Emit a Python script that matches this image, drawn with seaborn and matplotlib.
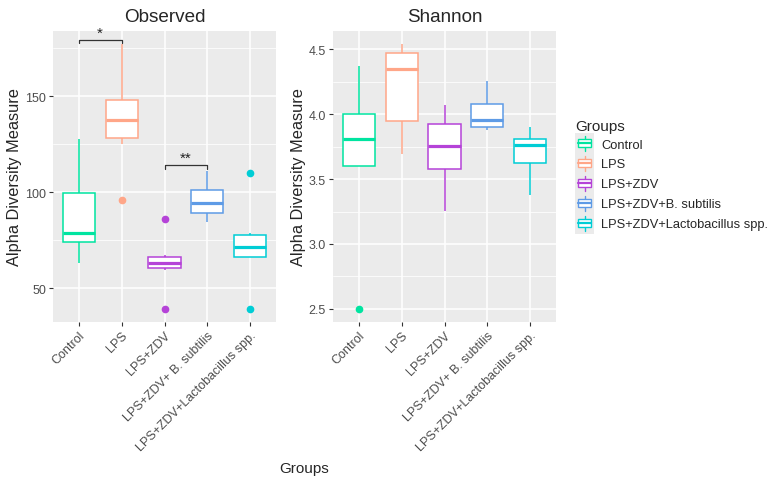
import pandas as pd
import matplotlib
matplotlib.use("Agg")
import matplotlib.pyplot as plt
import seaborn as sns
from matplotlib.legend_handler import HandlerBase
from matplotlib.patches import Patch, Rectangle
from matplotlib.lines import Line2D
from matplotlib.ticker import MultipleLocator, FormatStrFormatter

groups = ["Control", "LPS", "LPS+ZDV", "LPS+ZDV+B. subtilis", "LPS+ZDV+Lactobacillus spp."]
tick_labels = ["Control", "LPS", "LPS+ZDV", "LPS+ZDV+ B. subtilis", "LPS+ZDV+Lactobacillus spp."]
colors = ["#00E4A0", "#FFA688", "#B543D8", "#5E9BE6", "#00CDD5"]

# observed richness per sample
obs_control = [63, 63, 74, 74, 79, 99.5, 99.5, 127.7, 127.7]
obs_lps = [96, 125, 128, 128, 137.6, 148, 148, 177, 177]
obs_zdv = [39.3, 59.5, 60.3, 60.3, 63.2, 66.5, 66.5, 67.5, 86]
obs_bsub = [84.5, 84.5, 89.2, 89.2, 94.6, 101, 101, 111, 111]
obs_lacto = [39.3, 66.3, 66.3, 66.3, 71.2, 77.6, 77.6, 78.9, 110]

# shannon index per sample
sha_control = [2.5, 3.60, 3.60, 3.60, 3.813, 4.005, 4.005, 4.372, 4.372]
sha_lps = [3.69, 3.69, 3.95, 3.95, 4.35, 4.47, 4.47, 4.54, 4.54]
sha_zdv = [3.255, 3.255, 3.58, 3.58, 3.757, 3.925, 3.925, 4.07, 4.07]
sha_bsub = [3.876, 3.876, 3.90, 3.90, 3.955, 4.076, 4.076, 4.257, 4.257]
sha_lacto = [3.375, 3.375, 3.625, 3.625, 3.766, 3.81, 3.81, 3.90, 3.90]


def long_df(lists):
    rows = []
    for g, vals in zip(groups, lists):
        rows += [(g, v) for v in vals]
    return pd.DataFrame(rows, columns=["Groups", "value"])


df_obs = long_df([obs_control, obs_lps, obs_zdv, obs_bsub, obs_lacto])
df_sha = long_df([sha_control, sha_lps, sha_zdv, sha_bsub, sha_lacto])

sns.set_theme(style="darkgrid")
plt.rcParams["font.family"] = ["Liberation Sans", "DejaVu Sans"]

fig = plt.figure(figsize=(7.75, 4.85), dpi=100)
ax1 = fig.add_axes([53 / 775, 1 - 323 / 485, 223 / 775, 291 / 485])
ax2 = fig.add_axes([333 / 775, 1 - 323 / 485, 223 / 775, 291 / 485])


def draw_panel(ax, df, title, major, minor):
    for g, c in zip(groups, colors):
        sns.boxplot(data=df[df.Groups == g], x="Groups", y="value", order=groups,
                    color="white", linecolor=c, width=0.75, linewidth=1.1,
                    showcaps=False, medianprops={"linewidth": 2.3, "color": c},
                    flierprops={"marker": "o", "markersize": 4.5,
                                "markerfacecolor": c, "markeredgecolor": c},
                    ax=ax)
    lo, hi = df.value.min(), df.value.max()
    pad = (hi - lo) * 0.05
    ax.set_ylim(lo - pad, hi + pad)
    ax.set_xlim(-0.6, 4.6)
    ax.set_facecolor("#EBEBEB")
    for s in ax.spines.values():
        s.set_visible(False)
    ax.yaxis.set_major_locator(MultipleLocator(major))
    ax.yaxis.set_minor_locator(MultipleLocator(minor))
    ax.grid(which="major", color="white", lw=1.1)
    ax.grid(which="minor", axis="y", color="white", lw=0.55)
    ax.set_axisbelow(True)
    ax.tick_params(which="major", length=3, width=0.8, color="#333333",
                   labelcolor="#4D4D4D", labelsize=9, pad=2, bottom=True, left=True)
    ax.tick_params(which="minor", length=0)
    ax.set_xticks(range(len(groups)))
    ax.set_xticklabels(tick_labels, rotation=45, ha="right", va="top",
                       rotation_mode="anchor")
    ax.set_xlabel("")
    ax.set_ylabel("Alpha Diversity Measure", fontsize=11.8, labelpad=2)
    ax.set_title(title, fontsize=13.6, pad=7)


draw_panel(ax1, df_obs, "Observed", 50, 25)
draw_panel(ax2, df_sha, "Shannon", 0.5, 0.25)
ax2.yaxis.set_major_formatter(FormatStrFormatter("%.1f"))

# significance brackets
for x0, x1, y, tip, star in [(0, 1, 179.2, 1.6, "*"), (2, 3, 114, 2.0, "**")]:
    ax1.plot([x0, x0, x1, x1], [y - tip, y, y, y - tip], color="#333333", lw=0.9)
    ax1.text((x0 + x1) / 2, y + 0.3, star, ha="center", va="bottom", fontsize=11,
             color="#222222")

fig.text(304 / 775, 1 - 469 / 485, "Groups", ha="center", va="center", fontsize=11)


class BoxKey(HandlerBase):
    def create_artists(self, legend, orig, xd, yd, w, h, fontsize, trans):
        c = orig.get_edgecolor()
        x0, y0 = -xd, -yd
        xc = x0 + w / 2
        return [
            Rectangle((x0, y0 - 0.5), w, h + 1, facecolor="#EBEBEB", edgecolor="none",
                      transform=trans),
            Line2D([xc, xc], [y0 + 0.12 * h, y0 + 0.88 * h], color=c, lw=1, transform=trans),
            Rectangle((x0 + 0.12 * w, y0 + 0.3 * h), 0.76 * w, 0.4 * h,
                      facecolor="white", edgecolor=c, lw=1, transform=trans),
            Line2D([x0 + 0.12 * w, x0 + 0.88 * w], [y0 + 0.5 * h] * 2, color=c, lw=1.6,
                   transform=trans),
        ]


handles = [Patch(facecolor="white", edgecolor=c) for c in colors]
fig.legend(handles, groups, title="Groups", loc="upper left",
           bbox_to_anchor=(569 / 775, 1 - 114 / 485), frameon=False, fontsize=9.3,
           title_fontsize=11, handler_map={Patch: BoxKey()}, handlelength=1.4,
           handleheight=2.0, labelspacing=0.0, handletextpad=0.6, borderpad=0,
           alignment="left")

fig.savefig("out.png", dpi=100)
